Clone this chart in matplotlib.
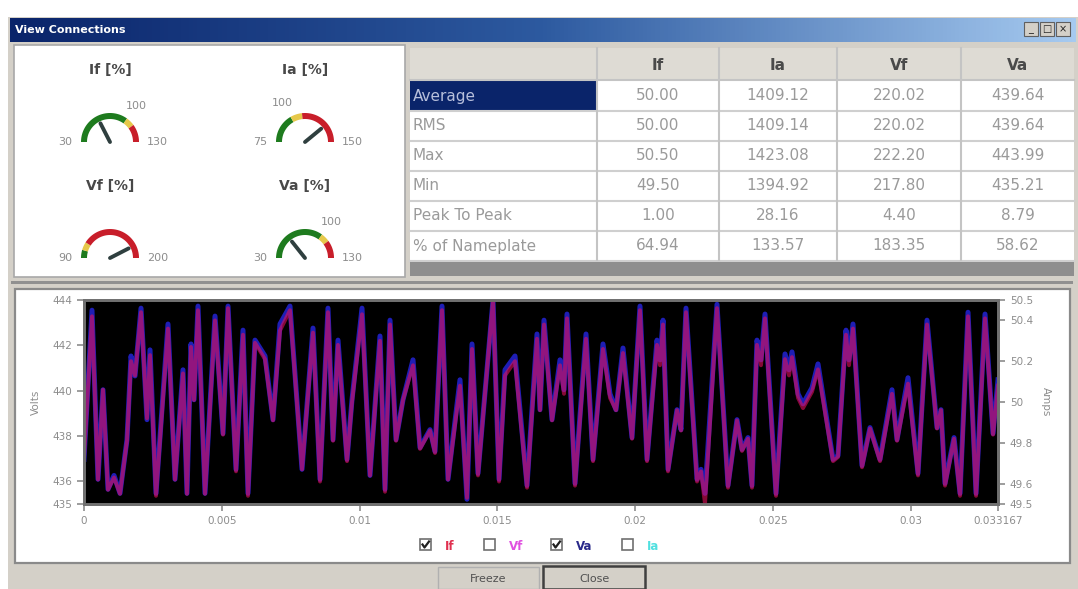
import numpy as np
import matplotlib
matplotlib.use('Agg')
import matplotlib.pyplot as plt
from matplotlib.patches import Rectangle, Polygon
from matplotlib.colors import LinearSegmentedColormap

plt.rcParams['font.family'] = ['DejaVu Sans']

# ---------------- data ----------------
t_ms = [0, 0.290, 0.508, 0.689, 0.871, 1.089, 1.306, 1.560, 1.706, 1.851, 2.069, 2.286, 2.395, 2.613,
        3.048, 3.302, 3.592, 3.737, 3.883, 3.992, 4.137, 4.391, 4.754, 5.044, 5.226, 5.516, 5.770,
        5.951, 6.205, 6.568, 6.858, 7.112, 7.475, 7.911, 8.310, 8.564, 8.854, 9.036, 9.217, 9.544,
        9.725, 10.088, 10.378, 10.741, 10.923, 11.104, 11.322, 11.576, 11.939, 12.193, 12.556,
        12.737, 12.991, 13.209, 13.644, 13.898, 14.080, 14.297, 14.842, 15.060, 15.277, 15.640,
        16.076, 16.438, 16.547, 16.692, 16.983, 17.273, 17.418, 17.527, 17.818, 18.217, 18.471,
        18.833, 19.087, 19.305, 19.559, 19.886, 20.176, 20.430, 20.793, 20.902, 21.011, 21.192,
        21.519, 21.664, 21.845, 22.245, 22.390, 22.535, 22.970, 23.369, 23.696, 23.877, 24.095,
        24.240, 24.421, 24.567, 24.712, 25.111, 25.438, 25.583, 25.692, 25.910, 26.091, 26.418,
        26.635, 27.180, 27.361, 27.651, 27.760, 27.905, 28.232, 28.522, 28.885, 29.320, 29.502,
        29.901, 30.264, 30.591, 30.954, 31.099, 31.244, 31.571, 31.789, 32.079, 32.370, 32.696,
        32.986, 33.167]

va_volts = [436.97, 443.55, 436.09, 440.04, 435.65, 436.26, 435.47, 437.84, 441.53, 440.65,
            443.64, 438.72, 441.80, 435.47, 442.94, 436.09, 440.92, 435.47, 442.06, 439.60,
            443.73, 435.47, 443.29, 438.11, 443.73, 436.53, 442.67, 435.47, 442.23, 441.53,
            438.72, 442.94, 443.73, 436.53, 442.76, 436.09, 443.64, 437.84, 442.23, 436.97,
            439.60, 443.64, 436.26, 442.41, 435.65, 443.11, 437.84, 439.60, 441.36, 437.49,
            438.28, 437.32, 443.73, 436.09, 440.48, 435.21, 442.06, 436.35, 443.99, 436.09,
            440.92, 441.53, 435.82, 442.50, 439.16, 443.11, 438.72, 441.36, 440.04, 443.38,
            435.91, 442.50, 436.97, 442.06, 439.86, 439.16, 441.88, 437.93, 443.73, 436.97,
            442.23, 441.36, 443.11, 436.53, 439.16, 438.28, 443.64, 436.09, 436.53, 435.47,
            443.81, 435.82, 438.72, 437.41, 437.93, 435.82, 442.23, 441.36, 443.38, 435.47,
            441.62, 440.92, 441.71, 439.86, 439.42, 440.13, 441.18, 436.97, 437.14, 442.67,
            441.36, 442.94, 436.70, 438.37, 436.97, 440.04, 437.84, 440.57, 436.35, 443.11,
            438.37, 439.16, 435.91, 437.93, 435.47, 443.46, 435.47, 443.38, 438.11, 440.48]

if_amps = [49.72, 50.42, 49.62, 50.06, 49.57, 49.63, 49.55, 49.81, 50.20, 50.13,
           50.44, 49.92, 50.23, 49.54, 50.36, 49.62, 50.14, 49.55, 50.27, 50.01,
           50.45, 49.55, 50.40, 49.84, 50.46, 49.66, 50.33, 49.54, 50.29, 50.21,
           49.91, 50.35, 50.45, 49.67, 50.34, 49.61, 50.44, 49.81, 50.28, 49.71,
           50.00, 50.43, 49.64, 50.30, 49.56, 50.38, 49.81, 50.01, 50.18, 49.77,
           49.86, 49.75, 50.45, 49.62, 50.08, 49.53, 50.26, 49.64, 50.50, 49.61,
           50.13, 50.20, 49.58, 50.31, 49.96, 50.38, 49.91, 50.18, 50.04, 50.41,
           49.59, 50.31, 49.71, 50.26, 50.02, 49.96, 50.24, 49.82, 50.45, 49.71,
           50.28, 50.18, 50.38, 49.66, 49.96, 49.86, 50.44, 49.61, 49.66, 49.50,
           50.46, 49.58, 49.91, 49.76, 49.82, 49.58, 50.28, 50.18, 50.41, 49.54,
           50.21, 50.13, 50.22, 50.02, 49.97, 50.05, 50.16, 49.71, 49.73, 50.33,
           50.18, 50.36, 49.68, 49.87, 49.71, 50.04, 49.81, 50.09, 49.64, 50.38,
           49.87, 49.96, 49.59, 49.82, 49.54, 50.42, 49.54, 50.41, 49.84, 50.08]

x_ticks = [0, 0.005, 0.01, 0.015, 0.02, 0.025, 0.03, 0.033167]
x_tick_labels = ['0', '0.005', '0.01', '0.015', '0.02', '0.025', '0.03', '0.033167']
volt_ticks = [435, 436, 438, 440, 442, 444]
amp_ticks = [49.5, 49.6, 49.8, 50.0, 50.2, 50.4, 50.5]
amp_tick_labels = ['49.5', '49.6', '49.8', '50', '50.2', '50.4', '50.5']

table_cols = ['If', 'Ia', 'Vf', 'Va']
table_rows = ['Average', 'RMS', 'Max', 'Min', 'Peak To Peak', '% of Nameplate']
table_if = [50.00, 50.00, 50.50, 49.50, 1.00, 64.94]
table_ia = [1409.12, 1409.14, 1423.08, 1394.92, 28.16, 133.57]
table_vf = [220.02, 220.02, 222.20, 217.80, 4.40, 183.35]
table_va = [439.64, 439.64, 443.99, 435.21, 8.79, 58.62]

gauge_titles = ['If [%]', 'Ia [%]', 'Vf [%]', 'Va [%]']
gauge_min = [30, 75, 90, 30]
gauge_max = [130, 150, 200, 130]
gauge_value = [64.94, 133.57, 183.35, 58.62]
gauge_warn = 100
gauge_alarm = 110
gauge_show_mid = [True, True, False, True]

legend_names = ['If', 'Vf', 'Va', 'Ia']
legend_checked = [True, False, True, False]
legend_colors = ['#e0304f', '#e050e0', '#2a2a8a', '#50e0e0']

# ---------------- figure ----------------
W, H = 1078, 589
fig = plt.figure(figsize=(W / 100, H / 100), dpi=100)
fig.patch.set_facecolor('white')
bg = fig.add_axes([0, 0, 1, 1])
bg.set_axis_off()
bg.set_zorder(0)

GRAY = '#d4d0c8'

# window frame
bg.add_patch(Rectangle((8, 17), 1070, 572, fc=GRAY, ec='none', zorder=1))
grad = np.linspace(0, 1, 256).reshape(1, -1)
cmap = LinearSegmentedColormap.from_list('tb', ['#0a246a', '#2d5aa0', '#a6caf0'])
bg.imshow(grad, extent=(10, 1076, 42, 18), aspect='auto', cmap=cmap, zorder=2)
bg.text(15, 30, 'View Connections', color='white', fontsize=8, fontweight='bold',
        va='center', ha='left', zorder=3)
for bx, glyph in zip([1024, 1040, 1056], ['_', '□', '×']):
    bg.add_patch(Rectangle((bx, 22), 14, 14, fc=GRAY, ec='#606060', lw=0.8, zorder=3))
    bg.text(bx + 7, 29, glyph, fontsize=7, ha='center', va='center', color='#202020', zorder=4)

# gauge panel
bg.add_patch(Rectangle((14, 45), 391, 232, fc='white', ec='#a8a8a8', lw=1.2, zorder=2))


def ang(v, vmin, vmax):
    return 180.0 - 180.0 * (v - vmin) / (vmax - vmin)


def arc_band(cx, cy, a0, a1, r_in, r_out, color):
    th = np.radians(np.linspace(a0, a1, 40))
    xo = cx + r_out * np.cos(th)
    yo = cy - r_out * np.sin(th)
    xi = cx + r_in * np.cos(th[::-1])
    yi = cy - r_in * np.sin(th[::-1])
    bg.add_patch(Polygon(np.column_stack([np.r_[xo, xi], np.r_[yo, yi]]), closed=True,
                         fc=color, ec='none', zorder=3))


centers = [(110, 142), (305, 142), (110, 258), (305, 258)]
for k in range(4):
    cx, cy = centers[k]
    vmin, vmax = gauge_min[k], gauge_max[k]
    bg.text(cx, cy - 72, gauge_titles[k], ha='center', va='center', fontsize=10,
            fontweight='bold', color='#484848', zorder=4)
    a_w = ang(gauge_warn, vmin, vmax)
    a_a = ang(gauge_alarm, vmin, vmax)
    arc_band(cx, cy, 180, a_w, 23, 29, '#1e7b1e')
    arc_band(cx, cy, a_w, a_a, 23, 29, '#e6c84a')
    arc_band(cx, cy, a_a, 0, 23, 29, '#c81e2a')
    a_v = np.radians(ang(gauge_value[k], vmin, vmax))
    bg.plot([cx, cx + 21 * np.cos(a_v)], [cy, cy - 21 * np.sin(a_v)], color='#2f3f3f',
            lw=2.8, solid_capstyle='round', zorder=5)
    bg.text(cx - 38, cy, f'{vmin}', ha='right', va='center', fontsize=8, color='#8c8c8c', zorder=4)
    bg.text(cx + 37, cy, f'{vmax}', ha='left', va='center', fontsize=8, color='#8c8c8c', zorder=4)
    if gauge_show_mid[k]:
        am = np.radians(a_w)
        bg.text(cx + 45 * np.cos(am), cy - 45 * np.sin(am), f'{gauge_warn}', ha='center',
                va='center', fontsize=8, color='#8c8c8c', zorder=4)

# table
col_edges = [410, 597, 719, 837, 961, 1074]
hy0, hy1 = 48, 80
row_h = 30
bg.add_patch(Rectangle((410, hy0), 664, 6 * row_h + (hy1 - hy0) + 2, fc='white', ec='none', zorder=2))
bg.add_patch(Rectangle((410, hy0), 664, hy1 - hy0, fc='#dedbd4', ec='none', zorder=2))
cols_vals = [table_if, table_ia, table_vf, table_va]
for j, c in enumerate(table_cols):
    xc = (col_edges[j + 1] + col_edges[j + 2]) / 2
    bg.text(xc, (hy0 + hy1) / 2 + 1, c, ha='center', va='center', fontsize=11,
            fontweight='bold', color='#4a4a4a', zorder=4)
for i, r in enumerate(table_rows):
    y0 = hy1 + 1 + i * row_h
    yc = y0 + row_h / 2
    if i == 0:
        bg.add_patch(Rectangle((410, y0), col_edges[1] - 410, row_h - 1, fc='#0a246a',
                               ec='none', zorder=3))
        lc = '#b8c0dc'
    else:
        lc = '#9a9a9a'
    bg.text(413, yc, r, ha='left', va='center', fontsize=11, color=lc, zorder=4)
    for j in range(4):
        xc = (col_edges[j + 1] + col_edges[j + 2]) / 2
        bg.text(xc, yc, f'{cols_vals[j][i]:.2f}', ha='center', va='center', fontsize=11,
                color='#9a9a9a', zorder=4)
    bg.plot([410, 1074], [y0 + row_h, y0 + row_h], color='#cfcfcf', lw=1.5, zorder=3)
bg.plot([410, 1074], [hy1, hy1], color='#c4c4c4', lw=1.5, zorder=3)
for xe in col_edges[1:-1]:
    bg.plot([xe, xe], [hy0, hy1 + 6 * row_h], color='#c4c4c4', lw=1.5, zorder=3)
bg.add_patch(Rectangle((410, 262), 664, 14, fc='#8e8e8e', ec='none', zorder=3))

# lower panel
bg.add_patch(Rectangle((11, 281), 1062, 3, fc='#909090', ec='none', zorder=2))
bg.add_patch(Rectangle((15, 289), 1055, 274, fc='white', ec='#8a8a8a', lw=1.6, zorder=2))

# buttons
bg.add_patch(Rectangle((438, 567), 101, 22, fc=GRAY, ec='#b0b0b0', lw=1, zorder=3))
bg.text(488, 579, 'Freeze', ha='center', va='center', fontsize=8, color='#505050', zorder=4)
bg.add_patch(Rectangle((543, 566), 102, 23, fc=GRAY, ec='#404040', lw=1.8, zorder=3))
bg.text(594, 579, 'Close', ha='center', va='center', fontsize=8, color='#505050', zorder=4)

# legend checkboxes
leg_x = [420, 484, 551, 622]
for k in range(4):
    bx = leg_x[k]
    by = 539
    bg.add_patch(Rectangle((bx, by), 11, 11, fc='white', ec='#707070', lw=1.2, zorder=3))
    if legend_checked[k]:
        bg.plot([bx + 2.5, bx + 4.5, bx + 9], [by + 5.5, by + 8.5, by + 2.5], color='#202020',
                lw=1.6, zorder=4)
    bg.text(bx + 25, by + 7, legend_names[k], ha='left', va='center', fontsize=8.5,
            fontweight='bold', color=legend_colors[k], zorder=4)

bg.set_xlim(0, W)
bg.set_ylim(H, 0)

# ---------------- chart ----------------
t_s = np.array(t_ms) / 1000.0
ax = fig.add_axes([84 / W, 1 - 504 / H, 914 / W, 204 / H])
ax.set_zorder(2)
ax.set_facecolor('black')
ax.plot(t_s, va_volts, color='#2020c0', lw=3.6, alpha=0.95)
ax.set_xlim(0, 0.033167)
ax.set_ylim(435, 444)
ax2 = ax.twinx()
ax2.plot(t_s, if_amps, color='#e0105a', lw=2.8, alpha=0.6)
ax2.set_ylim(49.5, 50.5)

ax.set_xticks(x_ticks)
ax.set_xticklabels(x_tick_labels)
ax.set_yticks(volt_ticks)
ax.set_yticklabels([str(v) for v in volt_ticks])
ax2.set_yticks(amp_ticks)
ax2.set_yticklabels(amp_tick_labels)
for a in (ax, ax2):
    a.tick_params(labelsize=7.5, colors='#8c8c8c', length=5, width=1.2, direction='out')
    for s in a.spines.values():
        s.set_color('#707070')
        s.set_linewidth(2)
ax.set_ylabel('Volts', fontsize=7.5, color='#8c8c8c', labelpad=8)
ax2.set_ylabel('Amps', fontsize=7.5, color='#8c8c8c', rotation=270, labelpad=13)

fig.savefig('out.png', dpi=100, facecolor='white')
